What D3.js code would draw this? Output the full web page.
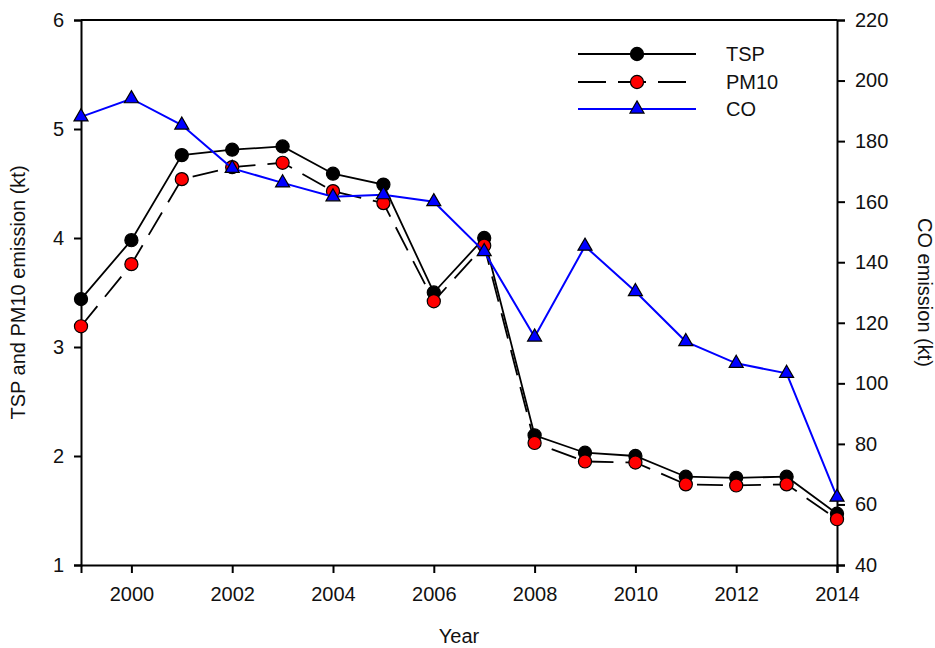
<!DOCTYPE html>
<html>
<head>
<meta charset="utf-8">
<script src="https://cdn.jsdelivr.net/npm/d3@7"></script>
<style>
  html, body { margin: 0; padding: 0; background: #fff; }
  svg { display: block; }
  text { font-family: Arial, "Liberation Sans", sans-serif; fill: #111; }
</style>
</head>
<body>
<svg id="chart" width="935" height="648"></svg>
<script>
// Annual emissions, 1999–2014
const years = [1999, 2000, 2001, 2002, 2003, 2004, 2005, 2006, 2007, 2008, 2009, 2010, 2011, 2012, 2013, 2014];
const tsp   = [3.44, 3.98, 4.76, 4.81, 4.84, 4.59, 4.49, 3.50, 4.00, 2.19, 2.03, 2.00, 1.81, 1.80, 1.81, 1.47];
const pm10  = [3.19, 3.76, 4.54, 4.65, 4.69, 4.43, 4.32, 3.42, 3.93, 2.12, 1.95, 1.94, 1.74, 1.73, 1.74, 1.42];
const co    = [188.0, 194.0, 185.3, 171.0, 166.2, 161.6, 162.3, 160.0, 143.5, 115.3, 145.3, 130.3, 113.8, 106.6, 103.3, 62.4];

const xTicks     = [2000, 2002, 2004, 2006, 2008, 2010, 2012, 2014];
const leftTicks  = [1, 2, 3, 4, 5, 6];
const rightTicks = [40, 60, 80, 100, 120, 140, 160, 180, 200, 220];

const svg = d3.select("#chart");
const plot = { left: 81, right: 837, top: 20, bottom: 565 };

const x  = d3.scaleLinear().domain([1999, 2014]).range([plot.left, plot.right]);
const yL = d3.scaleLinear().domain([1, 6]).range([plot.bottom, plot.top]);
const yR = d3.scaleLinear().domain([40, 220]).range([plot.bottom, plot.top]);

// Axes
function styleAxis(g) {
  g.selectAll(".domain").attr("stroke", "#000").attr("stroke-width", 2);
  g.selectAll(".tick line").attr("stroke", "#000").attr("stroke-width", 2);
  g.selectAll(".tick text").style("font-size", "20px").attr("fill", "#111");
}

svg.append("g")
  .attr("transform", `translate(0,${plot.bottom})`)
  .call(d3.axisBottom(x).tickValues(xTicks).tickFormat(d3.format("d")).tickSizeOuter(0).tickSize(8).tickPadding(14))
  .call(styleAxis);

svg.append("g")
  .attr("transform", `translate(${plot.left},0)`)
  .call(d3.axisLeft(yL).tickValues(leftTicks).tickFormat(d3.format("d")).tickSizeOuter(0).tickSize(7).tickPadding(10))
  .call(styleAxis);

svg.append("g")
  .attr("transform", `translate(${plot.right},0)`)
  .call(d3.axisRight(yR).tickValues(rightTicks).tickFormat(d3.format("d")).tickSizeOuter(0).tickSize(8).tickPadding(10))
  .call(styleAxis);

// Top frame line
svg.append("line")
  .attr("x1", plot.left).attr("x2", plot.right)
  .attr("y1", plot.top).attr("y2", plot.top)
  .attr("stroke", "#000").attr("stroke-width", 2);

// Axis titles
svg.append("text")
  .attr("x", (plot.left + plot.right) / 2 - 0).attr("y", 643)
  .attr("text-anchor", "middle").style("font-size", "20px")
  .text("Year");

svg.append("text")
  .attr("transform", `translate(25,${(plot.top + plot.bottom) / 2}) rotate(-90)`)
  .attr("text-anchor", "middle").style("font-size", "20px")
  .text("TSP and PM10 emission (kt)");

svg.append("text")
  .attr("transform", `translate(918,${(plot.top + plot.bottom) / 2}) rotate(90)`)
  .attr("text-anchor", "middle").style("font-size", "20px")
  .text("CO emission (kt)");

// Series
const series = [
  { name: "TSP",  values: tsp,  y: yL, stroke: "#000", width: 1.8, dash: null,    shape: d3.symbolCircle,   size: 135, fill: "#000" },
  { name: "PM10", values: pm10, y: yL, stroke: "#000", width: 1.8, dash: "26,12", shape: d3.symbolCircle,   size: 135, fill: "#ff0000" },
  { name: "CO",   values: co,   y: yR, stroke: "#0000ff", width: 2, dash: null,   shape: d3.symbolTriangle, size: 85,  fill: "#0000ff" }
];

series.forEach(s => {
  const pts = years.map((yr, i) => [x(yr), s.y(s.values[i])]);
  const g = svg.append("g");
  g.append("path")
    .attr("d", d3.line()(pts))
    .attr("fill", "none")
    .attr("stroke", s.stroke)
    .attr("stroke-width", s.width)
    .attr("stroke-dasharray", s.dash);
  g.selectAll("path.mark").data(pts).join("path")
    .attr("class", "mark")
    .attr("transform", d => `translate(${d[0]},${d[1]})`)
    .attr("d", d3.symbol().type(s.shape).size(s.size))
    .attr("fill", s.fill)
    .attr("stroke", "#000")
    .attr("stroke-width", 1.2);
});

// Legend
const legend = svg.append("g");
const legendRows = [54, 82, 109];
series.forEach((s, i) => {
  const ly = legendRows[i];
  legend.append("line")
    .attr("x1", 578).attr("x2", 696).attr("y1", ly).attr("y2", ly)
    .attr("stroke", s.stroke).attr("stroke-width", s.width)
    .attr("stroke-dasharray", s.dash ? "28,12" : null);
  legend.append("path")
    .attr("transform", `translate(637,${ly})`)
    .attr("d", d3.symbol().type(s.shape).size(s.size))
    .attr("fill", s.fill).attr("stroke", "#000").attr("stroke-width", 1.2);
  legend.append("text")
    .attr("x", 726).attr("y", ly + 7)
    .style("font-size", "20px")
    .text(s.name);
});
</script>
</body>
</html>
